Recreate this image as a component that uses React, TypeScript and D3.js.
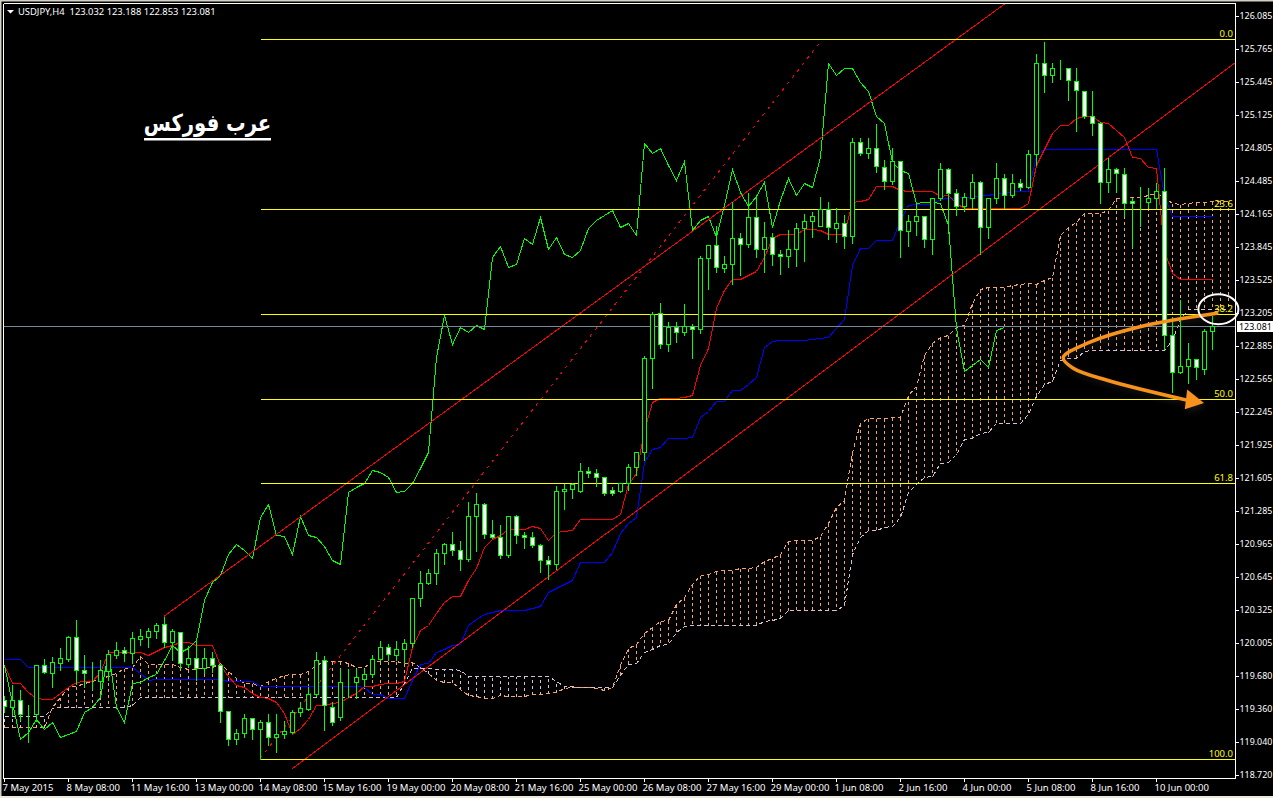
import { useEffect, useRef } from 'react';
import { axisBottom, axisRight, curveCatmullRom, format, line, scaleLinear, select } from 'd3';

const WIDTH = 1273;
const HEIGHT = 798;

const opens = [
  119.45,119.38,119.45,119.32,119.31,119.79,119.71,119.81,119.85,120.06,
  119.74,119.70,119.63,119.73,119.88,119.93,119.90,120.04,120.06,120.12,
  120.19,120.01,120.11,119.80,119.86,119.76,119.86,119.79,119.34,119.07,
  119.13,119.27,119.17,119.23,119.09,119.12,119.14,119.33,119.36,119.51,
  119.84,119.38,119.28,119.62,119.62,119.65,119.70,119.85,119.96,119.88,
  119.94,120.00,120.44,120.58,120.68,120.87,120.96,120.90,120.82,121.23,
  121.35,121.06,121.03,120.85,121.23,121.05,121.03,120.95,120.81,120.77,
  121.48,121.50,121.48,121.67,121.65,121.61,121.49,121.48,121.55,121.71,
  121.85,122.77,123.20,122.90,123.07,123.02,123.08,123.05,123.74,123.86,
  123.64,123.68,123.93,123.87,124.13,123.82,123.94,123.78,123.76,123.82,
  124.03,124.10,124.05,124.21,124.03,124.08,123.95,124.86,124.76,124.80,
  124.62,124.48,124.68,124.00,124.10,124.14,123.92,124.32,124.60,124.37,
  124.24,124.32,124.47,124.04,124.32,124.51,124.35,124.46,124.43,124.75,
  125.63,125.51,125.57,125.58,125.45,125.36,125.11,125.05,124.47,124.60,
  124.55,124.29,124.28,124.28,124.32,124.39,122.99,122.63,122.69,122.76,122.66,123.032,
];
const highs = [
  119.50,119.60,119.55,119.41,119.80,119.86,119.87,119.96,120.08,120.23,
  119.89,119.83,119.85,119.94,120.02,119.97,120.12,120.15,120.16,120.20,
  120.26,120.15,120.12,119.98,120.03,119.96,119.92,119.80,119.35,119.18,
  119.32,119.28,119.26,119.32,119.32,119.25,119.36,119.44,119.58,119.92,
  119.88,119.44,119.76,119.76,119.76,119.76,119.89,120.03,120.00,120.03,
  120.05,120.45,120.71,120.73,120.92,120.98,121.09,121.00,121.38,121.47,
  121.37,121.20,121.16,121.24,121.25,121.09,121.09,120.97,120.85,121.53,
  121.55,121.56,121.76,121.72,121.70,121.62,121.52,121.56,121.75,121.85,
  122.80,123.22,123.31,123.13,123.13,123.30,123.11,123.77,123.87,124.06,
  123.77,124.29,123.99,124.38,124.35,124.10,123.99,123.82,124.02,124.09,
  124.17,124.19,124.34,124.29,124.23,124.16,124.91,124.91,124.91,125.05,
  124.70,124.81,124.69,124.16,124.29,124.15,124.33,124.67,124.62,124.42,
  124.38,124.56,124.49,124.33,124.67,124.56,124.56,124.51,124.79,125.73,
  125.84,125.64,125.67,125.59,125.59,125.37,125.37,125.07,124.72,124.62,
  124.62,124.33,124.44,124.43,124.47,124.62,123.17,123.34,122.92,122.77,123.06,123.188,
];
const lows = [
  119.33,119.30,119.25,119.04,119.24,119.71,119.57,119.74,119.83,119.60,
  119.57,119.55,119.55,119.64,119.86,119.83,119.81,119.98,119.96,120.05,
  119.96,119.84,119.76,119.77,119.64,119.71,119.72,119.23,119.01,119.02,
  119.09,119.07,118.88,119.01,118.94,119.08,119.13,119.29,119.35,119.49,
  119.16,119.21,119.25,119.48,119.47,119.58,119.67,119.84,119.84,119.84,
  119.81,119.96,120.36,120.57,120.57,120.77,120.85,120.71,120.80,120.89,
  121.02,121.02,120.83,120.84,120.97,120.92,120.93,120.69,120.62,120.72,
  121.30,121.41,121.47,121.61,121.52,121.44,121.44,121.47,121.49,121.63,
  121.78,122.48,122.86,122.83,122.92,122.99,122.77,123.01,123.44,123.60,
  123.60,123.48,123.57,123.84,123.75,123.60,123.67,123.58,123.65,123.66,
  123.71,123.94,124.05,123.92,123.89,123.83,123.88,124.74,124.71,124.57,
  124.41,124.45,123.75,123.85,123.96,123.84,123.78,124.30,123.98,124.15,
  124.19,124.22,123.78,123.93,124.27,124.22,124.33,124.40,124.42,124.64,
  125.35,125.44,125.47,125.27,124.97,125.10,124.93,124.27,124.38,124.38,
  124.14,123.84,124.05,124.23,124.22,122.85,122.44,122.62,122.52,122.56,122.61,122.853,
];
const closes = [
  119.39,119.45,119.31,119.32,119.79,119.72,119.82,119.86,120.06,119.74,
  119.71,119.70,119.74,119.89,119.93,119.90,120.05,120.07,120.12,120.18,
  120.01,120.12,119.81,119.86,119.76,119.86,119.79,119.34,119.07,119.13,
  119.27,119.17,119.23,119.09,119.12,119.15,119.33,119.37,119.51,119.84,
  119.40,119.23,119.62,119.62,119.67,119.70,119.85,119.96,119.89,119.94,
  120.00,120.44,120.58,120.68,120.87,120.96,120.90,120.82,121.23,121.35,
  121.06,121.03,120.85,121.23,121.05,121.03,120.95,120.81,120.77,121.48,
  121.50,121.54,121.67,121.65,121.61,121.46,121.46,121.55,121.71,121.85,
  122.77,123.19,122.90,123.07,123.02,123.08,123.05,123.74,123.86,123.65,
  123.68,123.93,123.87,124.13,123.82,123.94,123.78,123.76,123.82,124.03,
  124.10,124.14,124.21,124.04,124.08,123.95,124.86,124.76,124.80,124.63,
  124.48,124.68,124.01,124.10,124.14,123.92,124.32,124.60,124.37,124.24,
  124.33,124.47,124.04,124.32,124.51,124.35,124.46,124.43,124.75,125.63,
  125.51,125.58,125.57,125.46,125.37,125.11,125.05,124.47,124.60,124.56,
  124.27,124.27,124.28,124.32,124.39,122.99,122.63,122.69,122.76,122.68,123.03,123.081,
];

// ichimoku lines
const tenkan = [
  119.79,119.61,119.61,119.53,119.47,119.46,119.46,119.52,119.57,119.62,
  119.63,119.63,119.72,119.91,119.91,119.91,119.91,119.91,119.88,119.92,
  119.96,119.98,120.01,120.01,119.98,119.98,119.98,119.79,119.68,119.59,
  119.57,119.52,119.48,119.47,119.43,119.32,119.12,119.18,119.26,119.40,
  119.40,119.42,119.43,119.48,119.52,119.58,119.58,119.60,119.61,119.61,
  119.63,119.96,120.13,120.18,120.29,120.40,120.46,120.46,120.61,120.73,
  120.93,121.01,121.05,121.11,121.11,121.11,121.14,121.12,121.00,121.08,
  121.09,121.10,121.20,121.20,121.20,121.20,121.20,121.25,121.54,121.65,
  122.07,122.34,122.38,122.38,122.38,122.39,122.41,122.70,122.86,123.25,
  123.43,123.53,123.53,123.57,123.61,123.75,123.93,123.97,123.97,123.97,
  124.02,124.02,124.01,123.97,123.97,123.97,124.28,124.29,124.31,124.44,
  124.44,124.44,124.40,124.39,124.39,124.39,124.39,124.34,124.35,124.27,
  124.22,124.22,124.22,124.22,124.22,124.22,124.22,124.22,124.27,124.64,
  124.79,124.95,125.03,125.03,125.10,125.11,125.11,125.06,125.05,124.98,
  124.91,124.72,124.71,124.62,124.61,123.81,123.59,123.53,123.53,123.53,123.53,123.53,
];
const kijun = [
  119.85,119.85,119.85,119.77,119.77,119.77,119.77,119.77,119.77,119.77,
  119.77,119.77,119.77,119.77,119.77,119.77,119.77,119.71,119.64,119.65,
  119.65,119.65,119.65,119.65,119.65,119.65,119.65,119.65,119.63,119.63,
  119.63,119.63,119.58,119.58,119.58,119.58,119.58,119.58,119.58,119.58,
  119.58,119.58,119.58,119.58,119.58,119.57,119.51,119.51,119.47,119.47,
  119.47,119.64,119.80,119.81,119.91,119.94,119.98,119.99,120.18,120.23,
  120.28,120.30,120.32,120.32,120.32,120.32,120.34,120.36,120.50,120.53,
  120.57,120.61,120.79,120.79,120.79,120.79,120.88,121.07,121.17,121.22,
  121.76,121.88,121.90,121.99,121.99,121.99,122.00,122.19,122.25,122.35,
  122.35,122.46,122.46,122.51,122.58,122.87,122.93,122.94,122.94,122.94,
  122.94,122.95,122.96,122.97,123.06,123.14,123.67,123.83,123.83,123.91,
  123.91,123.91,124.11,124.25,124.26,124.26,124.26,124.31,124.32,124.32,
  124.33,124.33,124.35,124.35,124.37,124.37,124.39,124.39,124.39,124.74,
  124.79,124.79,124.79,124.79,124.79,124.79,124.79,124.79,124.79,124.79,
  124.79,124.79,124.79,124.79,124.79,124.35,124.14,124.14,124.14,124.14,124.14,124.14,
];
const chikou = [
  119.79,119.42,119.07,119.14,119.26,119.17,119.23,119.09,119.12,119.15,
  119.33,119.38,119.48,119.92,119.38,119.23,119.61,119.62,119.67,119.70,
  119.84,119.98,119.91,119.95,120.03,120.42,120.59,120.66,120.86,120.96,
  120.90,120.83,121.22,121.35,121.05,121.04,120.86,121.23,121.05,121.03,
  120.94,120.81,120.77,121.47,121.51,121.55,121.68,121.66,121.61,121.47,
  121.48,121.55,121.70,121.85,122.78,123.18,122.90,123.07,123.02,123.09,
  123.05,123.75,123.85,123.65,123.68,123.93,123.87,124.13,123.82,123.94,
  123.78,123.75,123.81,124.03,124.11,124.15,124.20,124.04,124.08,123.96,
  124.85,124.76,124.80,124.64,124.49,124.68,124.01,124.11,124.14,123.94,
  124.25,124.60,124.38,124.24,124.34,124.47,124.04,124.30,124.51,124.35,
  124.46,124.43,124.72,125.63,125.51,125.58,125.58,125.44,125.36,125.11,
  125.05,124.67,124.59,124.56,124.27,124.28,124.28,124.27,124.06,123.06,
  122.64,122.70,122.76,122.68,123.04,123.07,
];
const senkouA = [
  119.19,119.19,119.19,119.19,119.19,119.19,119.38,119.48,119.57,119.58,
  119.61,119.63,119.66,119.68,119.71,119.76,119.77,119.87,119.80,119.80,
  119.80,119.80,119.77,119.75,119.75,119.77,119.77,119.81,119.73,119.66,
  119.61,119.61,119.58,119.63,119.66,119.69,119.70,119.70,119.73,119.79,
  119.83,119.83,119.83,119.81,119.77,119.77,119.83,119.83,119.83,119.83,
  119.81,119.82,119.77,119.71,119.64,119.62,119.62,119.55,119.50,119.49,
  119.47,119.47,119.50,119.49,119.49,119.49,119.51,119.51,119.52,119.53,
  119.56,119.57,119.57,119.57,119.56,119.54,119.57,119.79,119.95,119.99,
  120.10,120.16,120.21,120.22,120.38,120.45,120.57,120.66,120.67,120.70,
  120.71,120.71,120.73,120.73,120.74,120.80,120.83,120.86,120.99,121.00,
  121.00,121.00,121.04,121.17,121.32,121.39,121.85,122.14,122.18,122.18,
  122.18,122.19,122.19,122.41,122.49,122.80,122.91,122.97,122.99,123.07,
  123.09,123.30,123.44,123.46,123.46,123.46,123.47,123.48,123.49,123.48,
  123.52,123.55,123.96,124.04,124.09,124.17,124.17,124.17,124.20,124.32,
  124.33,124.33,124.33,124.35,124.37,124.33,124.27,124.26,124.27,124.28,
  124.28,124.29,124.29,124.29,
];
const senkouB = [
  119.29,119.29,119.29,119.29,119.29,119.29,119.37,119.38,119.38,119.38,
  119.38,119.38,119.38,119.38,119.38,119.38,119.40,119.48,119.48,119.48,
  119.48,119.48,119.48,119.48,119.48,119.48,119.48,119.48,119.48,119.48,
  119.48,119.48,119.48,119.48,119.48,119.48,119.48,119.48,119.48,119.48,
  119.48,119.48,119.48,119.48,119.48,119.48,119.48,119.48,119.48,119.48,
  119.61,119.76,119.76,119.76,119.75,119.75,119.75,119.74,119.68,119.68,
  119.68,119.68,119.68,119.68,119.68,119.68,119.68,119.68,119.68,119.63,
  119.58,119.58,119.57,119.57,119.57,119.57,119.57,119.69,119.80,119.81,
  119.91,119.94,119.98,119.99,120.11,120.17,120.18,120.18,120.18,120.18,
  120.18,120.18,120.18,120.18,120.18,120.21,120.22,120.24,120.32,120.32,
  120.32,120.32,120.32,120.32,120.32,120.37,120.86,121.03,121.10,121.10,
  121.13,121.14,121.22,121.47,121.54,121.61,121.62,121.75,121.76,121.83,
  121.98,121.99,122.04,122.05,122.14,122.14,122.14,122.14,122.22,122.40,
  122.51,122.54,122.75,122.77,122.77,122.83,122.84,122.84,122.84,122.84,
  122.84,122.84,122.84,122.84,122.84,122.84,122.94,123.14,123.24,123.24,
  123.24,123.24,123.24,123.24,
];

const priceTicks = [
  126.085,125.765,125.445,125.125,124.805,124.485,124.165,123.845,123.525,123.205,122.885,122.565,
  122.245,121.925,121.605,121.285,120.965,120.645,120.325,120.005,119.68,119.36,119.04,118.72,
];
const timeLabels = [
  '7 May 2015','8 May 08:00','11 May 16:00','13 May 00:00','14 May 08:00','15 May 16:00','19 May 00:00',
  '20 May 08:00','21 May 16:00','25 May 00:00','26 May 08:00','27 May 16:00','29 May 00:00','1 Jun 08:00',
  '2 Jun 16:00','4 Jun 00:00','5 Jun 08:00','8 Jun 16:00','10 Jun 00:00',
];
const timeTickBars = timeLabels.map((_, i) => i * 8);

const fibLabels = ['0.0', '23.6', '38.2', '50.0', '61.8', '100.0'];
const fibPrices = [125.86, 124.21, 123.19, 122.37, 121.55, 118.88];
const fibStartBar = 32;

// trend lines as [bar, price] ends
const upperChannel: [number, number][] = [[20, 120.26], [125.75, 126.24]];
const lowerChannel: [number, number][] = [[36, 118.78], [153.875, 125.63]];
const fibBaseLine: [number, number][] = [[32, 118.88], [102, 125.83]];

const arrowCurve: [number, number][] = [
  [151.6, 123.2], [142, 123.07], [135.75, 122.92], [132.4, 122.77], [133.6, 122.67], [137.9, 122.55], [148.25, 122.35],
];
const arrowHead: [number, number][] = [[147.9, 122.46], [150, 122.33], [147.6, 122.27]];
const lastPrice = 123.081;
const circleCenter: [number, number] = [151.8, 123.24];

export default function App() {
  const svgRef = useRef<SVGSVGElement | null>(null);

  useEffect(() => {
    const svgElement = svgRef.current;
    if (!svgElement) return;
    const svg = select(svgElement);
    svg.selectAll('*').remove();

    const x = scaleLinear().domain([0, 151]).range([4, 1212]);
    const y = scaleLinear().domain([126.085, 118.72]).range([16, 775]);
    const sx = (i: number) => Math.round(x(i)) + 0.5;
    const sy = (p: number) => Math.round(y(p)) + 0.5;

    const defs = svg.append('defs');
    defs.append('clipPath').attr('id', 'plot').append('rect').attr('x', 4).attr('y', 4).attr('width', 1231).attr('height', 774);
    const blur = defs.append('filter').attr('id', 'arrow-shadow').attr('x', '-10%').attr('y', '-30%').attr('width', '120%').attr('height', '160%');
    blur.append('feDropShadow').attr('dx', 2).attr('dy', 3).attr('stdDeviation', 3).attr('flood-color', '#555').attr('flood-opacity', 0.3);

    svg.append('rect').attr('width', WIDTH).attr('height', HEIGHT).attr('fill', '#000');
    // window edge
    svg.append('rect').attr('width', WIDTH).attr('height', 1.5).attr('fill', '#d4d0c8');
    svg.append('rect').attr('width', 1.5).attr('height', HEIGHT).attr('fill', '#d4d0c8');
    svg.append('rect').attr('y', 796).attr('width', WIDTH).attr('height', 2).attr('fill', '#ece9d8');

    const plot = svg.append('g').attr('clip-path', 'url(#plot)').attr('shape-rendering', 'crispEdges');

    // kumo hatch
    plot.append('g').selectAll('line').data(senkouA).join('line')
      .attr('x1', (_, i) => sx(i)).attr('x2', (_, i) => sx(i))
      .attr('y1', (d) => sy(d)).attr('y2', (_, i) => sy(senkouB[i]))
      .attr('stroke', (d, i) => (d >= senkouB[i] ? '#f4a460' : '#d8bfd8'))
      .attr('stroke-dasharray', '3 3');

    const seriesLine = line<number>().x((_, i) => sx(i)).y((d) => sy(d));
    plot.append('path').attr('d', seriesLine(senkouB)).attr('fill', 'none').attr('stroke', '#d8bfd8').attr('stroke-dasharray', '4 3');
    plot.append('path').attr('d', seriesLine(senkouA)).attr('fill', 'none').attr('stroke', '#f4a460').attr('stroke-dasharray', '4 3');

    plot.append('path').attr('d', seriesLine(kijun)).attr('fill', 'none').attr('stroke', '#0000ff');
    plot.append('path').attr('d', seriesLine(tenkan)).attr('fill', 'none').attr('stroke', '#ff0000');
    plot.append('path').attr('d', seriesLine(chikou)).attr('fill', 'none').attr('stroke', '#00ff00');

    // channel and fibo
    const pointLine = line<[number, number]>().x((d) => x(d[0])).y((d) => y(d[1]));
    plot.append('path').attr('d', pointLine(upperChannel)).attr('stroke', '#ff0000').attr('fill', 'none');
    plot.append('path').attr('d', pointLine(lowerChannel)).attr('stroke', '#ff0000').attr('fill', 'none');
    plot.append('path').attr('d', pointLine(fibBaseLine)).attr('stroke', '#ff0000').attr('stroke-dasharray', '3 5').attr('fill', 'none');

    plot.append('line').attr('x1', 4).attr('x2', 1235).attr('y1', sy(lastPrice)).attr('y2', sy(lastPrice)).attr('stroke', '#778899');

    plot.append('g').selectAll('line').data(fibPrices).join('line')
      .attr('x1', sx(fibStartBar)).attr('x2', 1235)
      .attr('y1', (d) => sy(d)).attr('y2', (d) => sy(d))
      .attr('stroke', '#ffff00');

    // candles on top
    const candles = plot.append('g').selectAll('g').data(opens).join('g');
    candles.append('line')
      .attr('x1', (_, i) => sx(i)).attr('x2', (_, i) => sx(i))
      .attr('y1', (_, i) => sy(highs[i])).attr('y2', (_, i) => sy(lows[i]))
      .attr('stroke', '#00ff00');
    candles.append('rect')
      .attr('x', (_, i) => sx(i) - 2).attr('width', 4)
      .attr('y', (d, i) => sy(Math.max(d, closes[i])))
      .attr('height', (d, i) => sy(Math.min(d, closes[i])) - sy(Math.max(d, closes[i])))
      .attr('fill', (d, i) => (closes[i] >= d ? '#000' : '#fff'))
      .attr('stroke', '#00ff00');

    // fibo level labels
    const labelFont = '"Noto Sans", sans-serif';
    svg.append('g').selectAll('text').data(fibPrices).join('text')
      .attr('x', 1233).attr('y', (d) => sy(d) - 2.5)
      .attr('text-anchor', 'end').attr('fill', '#ffff00')
      .attr('font-family', labelFont).attr('font-size', 9.5)
      .text((_, i) => fibLabels[i]);

    // arrow and circle, drawn by hand on the chart
    const arrow = svg.append('g').attr('filter', 'url(#arrow-shadow)');
    arrow.append('path')
      .attr('d', pointLine.curve(curveCatmullRom)(arrowCurve))
      .attr('fill', 'none').attr('stroke', '#f7931e').attr('stroke-width', 3.5).attr('stroke-linecap', 'round');
    const headLine = line<[number, number]>().x((d) => x(d[0])).y((d) => y(d[1]));
    arrow.append('path').attr('d', `${headLine(arrowHead)}Z`).attr('fill', '#f7931e');
    svg.append('ellipse')
      .attr('cx', x(circleCenter[0])).attr('cy', y(circleCenter[1]))
      .attr('rx', 20).attr('ry', 15)
      .attr('fill', 'none').attr('stroke', '#fff').attr('stroke-width', 2);

    // axes
    const frame = svg.append('g').attr('shape-rendering', 'crispEdges');
    frame.append('line').attr('x1', 3.5).attr('x2', 3.5).attr('y1', 3.5).attr('y2', 778.5).attr('stroke', '#fff');
    frame.append('line').attr('x1', 3.5).attr('x2', 1235.5).attr('y1', 3.5).attr('y2', 3.5).attr('stroke', '#fff');

    const rightAxis = axisRight(y).tickValues(priceTicks).tickFormat(format('.3f')).tickSize(4).tickPadding(0.5);
    const rightG = svg.append('g').attr('transform', 'translate(1235,0)').call(rightAxis);
    rightG.select('.domain').remove();
    svg.append('line').attr('x1', 1235.5).attr('x2', 1235.5).attr('y1', 3.5).attr('y2', 778.5).attr('stroke', '#fff').attr('shape-rendering', 'crispEdges');
    rightG.selectAll('line').attr('stroke', '#fff').attr('shape-rendering', 'crispEdges');
    rightG.selectAll('text').attr('fill', '#fff').attr('font-family', labelFont).attr('font-size', 8.9);

    const bottomAxis = axisBottom(x).tickValues(timeTickBars).tickFormat((d) => timeLabels[timeTickBars.indexOf(+d)]).tickSize(4).tickPadding(2);
    const bottomG = svg.append('g').attr('transform', 'translate(0,778)').call(bottomAxis);
    bottomG.select('.domain').remove();
    svg.append('line').attr('x1', 3.5).attr('x2', 1235.5).attr('y1', 778.5).attr('y2', 778.5).attr('stroke', '#fff').attr('shape-rendering', 'crispEdges');
    bottomG.selectAll('line').attr('stroke', '#fff').attr('shape-rendering', 'crispEdges');
    bottomG.selectAll('text').attr('fill', '#fff').attr('font-family', labelFont).attr('font-size', 9.5).attr('text-anchor', 'start').attr('dx', -2);

    // last price tag
    svg.append('rect').attr('x', 1237).attr('y', sy(lastPrice) - 5.5).attr('width', 36).attr('height', 11).attr('fill', '#fff');
    svg.append('text').attr('x', 1239).attr('y', sy(lastPrice) + 3.5).attr('fill', '#000')
      .attr('font-family', labelFont).attr('font-size', 8.9).text(format('.3f')(lastPrice));

    // header
    svg.append('path').attr('d', 'M7,10H14L10.5,13.5Z').attr('fill', '#fff');
    svg.append('text').attr('x', 18).attr('y', 14.5).attr('fill', '#fff').attr('font-family', labelFont).attr('font-size', 9.4)
      .style('white-space', 'pre')
      .text(`USDJPY,H4  ${format('.3f')(opens[151])} ${format('.3f')(highs[151])} ${format('.3f')(lows[151])} ${format('.3f')(closes[151])}`);

    // watermark
    svg.append('text').attr('transform', 'translate(207.5,131) scale(1,1.2)').attr('text-anchor', 'middle').attr('fill', '#fff')
      .attr('font-family', '"DejaVu Sans", sans-serif').attr('font-weight', 'bold').attr('font-size', 19.6)
      .attr('direction', 'rtl')
      .text('عرب فوركس');
    svg.append('rect').attr('x', 144).attr('y', 138).attr('width', 127).attr('height', 2.5).attr('fill', '#fff');
  }, []);

  return <svg ref={svgRef} width={WIDTH} height={HEIGHT} style={{ position: 'absolute', left: 0, top: 0, display: 'block' }} />;
}
